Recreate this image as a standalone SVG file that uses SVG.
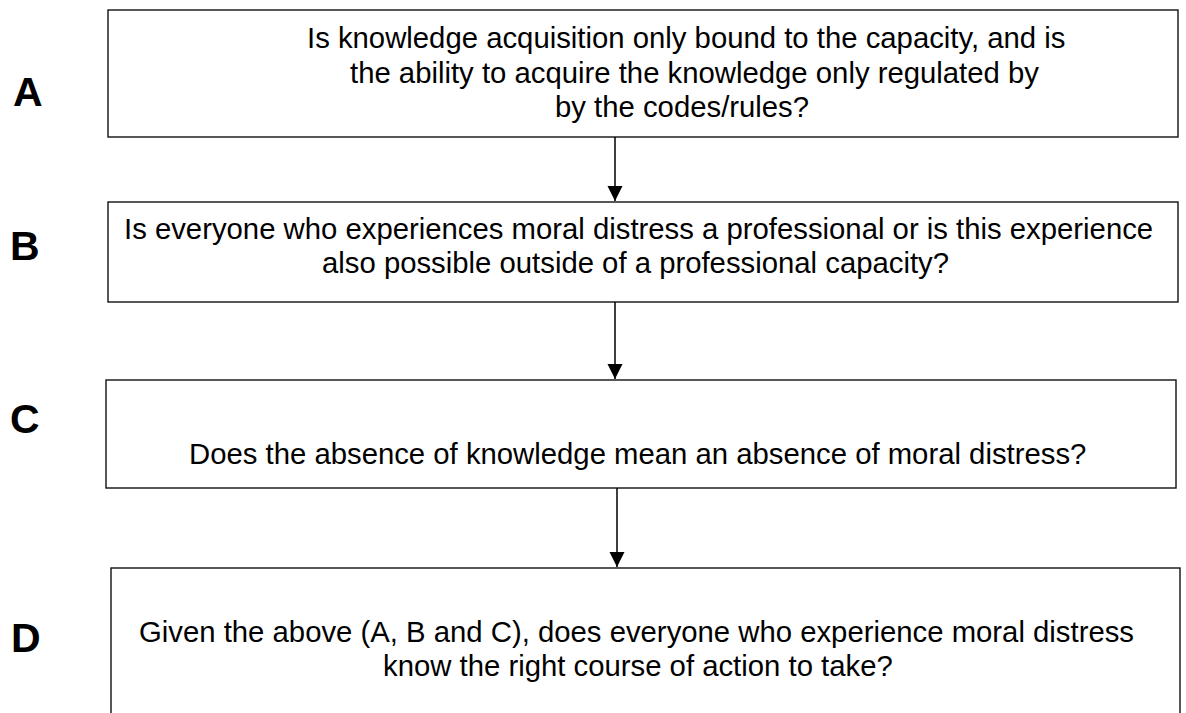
<svg xmlns="http://www.w3.org/2000/svg" width="1186" height="713" viewBox="0 0 1186 713">
<defs>
<style>
.box{fill:#fff;stroke:#111;stroke-width:1.4}
.t{font-family:"Liberation Sans",Arial,sans-serif;font-size:29.3px;fill:#000}
.lbl{font-family:"Liberation Sans",Arial,sans-serif;font-size:41px;font-weight:bold;fill:#000}
.conn{stroke:#000;stroke-width:1.5;fill:none}
</style>
<marker id="arr" markerUnits="userSpaceOnUse" markerWidth="16" markerHeight="16" refX="15" refY="8" orient="auto">
<path d="M0,0.5 L15,8 L0,15.5 Z" fill="#000"/>
</marker>
</defs>
<rect width="1186" height="713" fill="#fff"/>
<g id="nodeA">
<rect class="box" x="108" y="10" width="1070" height="127"/>
<text class="t" x="307" y="48">Is knowledge acquisition only bound to the capacity, and is</text>
<text class="t" x="350" y="83">the ability to acquire the knowledge only regulated by</text>
<text class="t" x="555" y="117">by the codes/rules?</text>
<text class="lbl" x="13" y="106">A</text>
</g>
<g id="nodeB">
<rect class="box" x="108" y="202" width="1070" height="100"/>
<text class="t" x="124" y="239">Is everyone who experiences moral distress a professional or is this experience</text>
<text class="t" x="322" y="273">also possible outside of a professional capacity?</text>
<text class="lbl" x="10" y="260">B</text>
</g>
<g id="nodeC">
<rect class="box" x="106" y="380" width="1070" height="108"/>
<text class="t" x="189" y="464">Does the absence of knowledge mean an absence of moral distress?</text>
<text class="lbl" x="10" y="433">C</text>
</g>
<g id="nodeD">
<rect class="box" x="111" y="568" width="1069" height="160"/>
<text class="t" x="139" y="642">Given the above (A, B and C), does everyone who experience moral distress</text>
<text class="t" x="383" y="676">know the right course of action to take?</text>
<text class="lbl" x="11" y="652">D</text>
</g>
<g id="connectors">
<line class="conn" x1="615" y1="137" x2="615" y2="201" marker-end="url(#arr)"/>
<line class="conn" x1="615" y1="302" x2="615" y2="379" marker-end="url(#arr)"/>
<line class="conn" x1="617" y1="488" x2="617" y2="567" marker-end="url(#arr)"/>
</g>
</svg>
